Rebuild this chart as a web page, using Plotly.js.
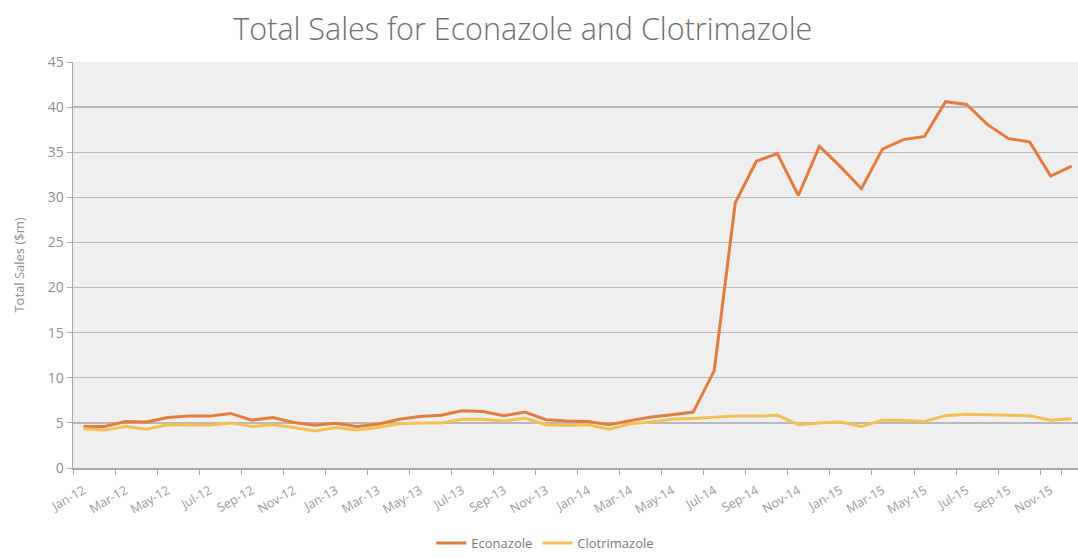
<!DOCTYPE html>
<html>
<head>
<meta charset="utf-8">
<script src="https://cdn.plot.ly/plotly-3.0.1.min.js"></script>
<style>html,body{margin:0;padding:0;background:#fff;}#chart{width:1078px;height:558px;}</style>
</head>
<body>
<div id="chart"></div>
<script>
var months = ["Jan-12","Feb-12","Mar-12","Apr-12","May-12","Jun-12","Jul-12","Aug-12","Sep-12","Oct-12","Nov-12","Dec-12",
              "Jan-13","Feb-13","Mar-13","Apr-13","May-13","Jun-13","Jul-13","Aug-13","Sep-13","Oct-13","Nov-13","Dec-13",
              "Jan-14","Feb-14","Mar-14","Apr-14","May-14","Jun-14","Jul-14","Aug-14","Sep-14","Oct-14","Nov-14","Dec-14",
              "Jan-15","Feb-15","Mar-15","Apr-15","May-15","Jun-15","Jul-15","Aug-15","Sep-15","Oct-15","Nov-15","Dec-15"];
var econazole = [4.6,4.6,5.15,5.1,5.6,5.75,5.75,6.05,5.3,5.6,5.05,4.75,
                 4.95,4.6,4.85,5.4,5.7,5.85,6.35,6.25,5.8,6.2,5.35,5.2,
                 5.15,4.8,5.25,5.65,5.9,6.2,10.8,29.4,34.0,34.85,30.2,35.65,
                 33.4,30.95,35.35,36.4,36.75,40.6,40.3,38.05,36.5,36.15,32.35,33.45];
var clotrimazole = [4.35,4.2,4.6,4.3,4.8,4.75,4.75,5.0,4.6,4.8,4.5,4.1,
                    4.5,4.2,4.5,4.9,5.0,5.0,5.4,5.4,5.2,5.5,4.8,4.7,
                    4.8,4.3,4.9,5.1,5.4,5.5,5.65,5.75,5.75,5.85,4.8,5.0,
                    5.1,4.6,5.3,5.3,5.15,5.8,5.95,5.9,5.9,5.8,5.3,5.45];
var tickLabels = months.filter(function(m, i){ return i % 2 === 0; });

var font = "'Open Sans', Lato, sans-serif";
var traces = [
  {x: months, y: econazole, name: "Econazole", type: "scatter", mode: "lines",
   line: {color: "#E37D3E", width: 3}},
  {x: months, y: clotrimazole, name: "Clotrimazole", type: "scatter", mode: "lines",
   line: {color: "#F3C153", width: 3}}
];
var layout = {
  width: 1078, height: 558,
  margin: {l: 73, r: 0, t: 62, b: 88, pad: 0},
  paper_bgcolor: "#ffffff",
  plot_bgcolor: "#efefef",
  font: {family: font, color: "#7a7a7a", size: 13},
  title: {text: "Total Sales for Econazole and Clotrimazole", x: 0.485, xanchor: "center",
          y: 0.948, yanchor: "middle", font: {family: font, size: 30.5, color: "#6f6f6f", weight: 300}},
  xaxis: {type: "category", range: [-0.5, 47.3], tickvals: tickLabels, ticktext: tickLabels,
          tickson: "boundaries", ticks: "outside", ticklen: 5, tickcolor: "#a8a8a8",
          tickangle: -30, ticklabelstandoff: 9, tickfont: {size: 12.5, color: "#9a9a9a"},
          showline: true, linecolor: "#a8a8a8", linewidth: 1.5, showgrid: false, zeroline: false,
          automargin: false},
  yaxis: {range: [0, 45], dtick: 5, tick0: 0, showgrid: true, gridcolor: "#b9b9b9", gridwidth: 1.4,
          showline: true, linecolor: "#a8a8a8", linewidth: 1.5, ticks: "outside", ticklen: 5,
          tickcolor: "#a8a8a8", tickfont: {size: 14, color: "#8f8f8f"}, zeroline: false,
          title: {text: "Total Sales ($m)", font: {size: 13, color: "#8f8f8f"}, standoff: 20},
          automargin: false},
  showlegend: true,
  legend: {orientation: "h", x: 0.47, xanchor: "center", y: -0.185, yanchor: "middle",
           font: {size: 13, color: "#7a7a7a"}, bgcolor: "rgba(0,0,0,0)"}
};
Plotly.newPlot("chart", traces, layout, {displayModeBar: false, staticPlot: true});
</script>
</body>
</html>
